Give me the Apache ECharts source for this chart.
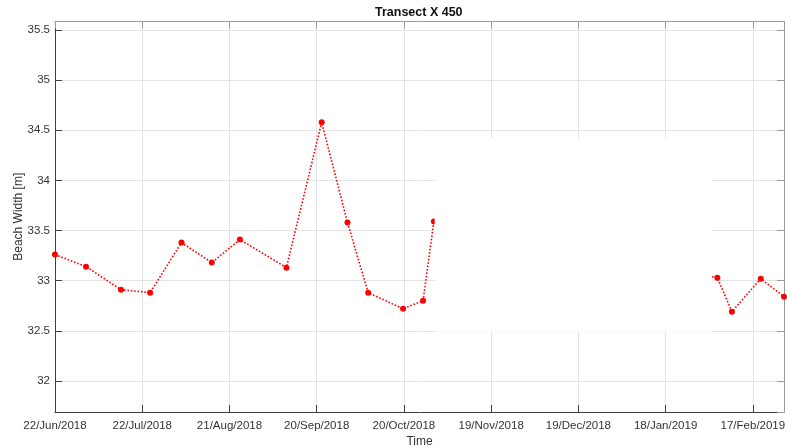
<!DOCTYPE html>
<html>
<head>
<meta charset="utf-8">
<script src="https://cdn.jsdelivr.net/npm/echarts@6/dist/echarts.min.js"></script>
<style>
  html, body { margin: 0; padding: 0; background: #ffffff; }
  #chart { width: 787px; height: 445px; }
</style>
</head>
<body>
<div id="chart"></div>
<script>
// Survey times (UTC) and measured beach width for transect X 450
const surveyTimes = [
  '2018-06-22 00:00', '2018-07-02 16:00', '2018-07-14 17:00', '2018-07-24 17:00',
  '2018-08-04 12:00', '2018-08-14 22:00', '2018-08-24 14:00', '2018-09-09 14:00',
  '2018-09-21 17:00', '2018-09-30 14:00', '2018-10-07 17:00', '2018-10-19 17:00',
  '2018-10-26 14:00', '2018-10-30 07:00', '2019-02-04 19:00', '2019-02-09 19:00',
  '2019-02-19 17:00', '2019-02-27 17:00'
];
const beachWidth = [
  33.26, 33.14, 32.91, 32.88,
  33.38, 33.18, 33.41, 33.13,
  34.58, 33.58, 32.88, 32.72,
  32.80, 33.59, 33.03, 32.69,
  33.02, 32.84
];

// Date ticks every 30 days starting at the first survey
const tickOrigin = '2018-06-22 00:00';
const tickStepDays = 30;
const monthNames = ['Jan', 'Feb', 'Mar', 'Apr', 'May', 'Jun', 'Jul', 'Aug', 'Sep', 'Oct', 'Nov', 'Dec'];

// Blanked-out window over the plot (time range and width range)
const blankFrom = '2018-10-30 14:00';
const blankTo = '2019-02-02 22:00';
const blankTop = 34.42;
const blankBottom = 32.49;

const DAY = 86400000;
function parseUTC(s) {
  const [d, t] = s.split(' ');
  const [Y, M, D] = d.split('-').map(Number);
  const [h, m] = t.split(':').map(Number);
  return Date.UTC(Y, M - 1, D, h, m);
}
const origin = parseUTC(tickOrigin);
const toDays = s => (parseUTC(s) - origin) / DAY;

const days = surveyTimes.map(toDays);
const points = days.map((d, i) => [d, beachWidth[i]]);
const xMax = days[days.length - 1];

function fmtDate(v) {
  const dt = new Date(origin + v * DAY);
  const dd = String(dt.getUTCDate()).padStart(2, '0');
  return dd + '/' + monthNames[dt.getUTCMonth()] + '/' + dt.getUTCFullYear();
}

const FONT = 'Liberation Sans, Arial, Helvetica, sans-serif';
const AXIS_DARK = '#404040';
const AXIS_LIGHT = '#9a9a9a';
const GRID = '#e3e3e3';
const TEXT = '#333333';

const chart = echarts.init(document.getElementById('chart'), null, { renderer: 'canvas' });

const yCommon = { type: 'value', min: 31.69, max: 35.585, splitNumber: 8 };
const xCommon = { type: 'value', min: 0, max: xMax, interval: tickStepDays };

function boxLine(color) {
  return { show: true, onZero: false, lineStyle: { color: color, width: 1 } };
}
function innerTicks(color) {
  return { show: true, inside: true, length: 7, lineStyle: { color: color } };
}

chart.setOption({
  animation: false,
  backgroundColor: '#ffffff',
  title: {
    text: 'Transect X 450',
    left: 375, top: 6, padding: 0,
    textStyle: { fontFamily: FONT, fontSize: 12.5, fontWeight: 'bold', color: '#111111' }
  },
  grid: { left: 55, right: 3, top: 21.5, bottom: 33, containLabel: false, outerBoundsMode: 'none' },
  xAxis: [
    Object.assign({}, xCommon, {
      position: 'bottom',
      name: 'Time', nameLocation: 'middle', nameGap: 24, nameMoveOverlap: false,
      nameTextStyle: { fontFamily: FONT, fontSize: 12, color: TEXT },
      axisLine: boxLine(AXIS_DARK),
      axisTick: innerTicks(AXIS_DARK),
      axisLabel: {
        formatter: fmtDate, showMaxLabel: false, margin: 8,
        fontFamily: FONT, fontSize: 11.5, color: TEXT
      },
      splitLine: { show: true, lineStyle: { color: GRID, width: 1 } }
    }),
    Object.assign({}, xCommon, {
      position: 'top',
      axisLine: boxLine(AXIS_LIGHT),
      axisTick: innerTicks(AXIS_LIGHT),
      axisLabel: { show: false },
      splitLine: { show: false }
    })
  ],
  yAxis: [
    Object.assign({}, yCommon, {
      position: 'left',
      name: 'Beach Width [m]', nameLocation: 'middle', nameGap: 30, nameRotate: 90,
      nameMoveOverlap: false,
      nameTextStyle: { fontFamily: FONT, fontSize: 12, color: TEXT },
      axisLine: boxLine(AXIS_DARK),
      axisTick: innerTicks(AXIS_DARK),
      axisLabel: {
        showMinLabel: false, showMaxLabel: false, margin: 5,
        fontFamily: FONT, fontSize: 11.5, color: TEXT
      },
      splitLine: { show: true, lineStyle: { color: GRID, width: 1 } }
    }),
    Object.assign({}, yCommon, {
      position: 'right',
      axisLine: boxLine(AXIS_LIGHT),
      axisTick: innerTicks(AXIS_LIGHT),
      axisLabel: { show: false },
      splitLine: { show: false }
    })
  ],
  series: [{
    type: 'line',
    xAxisIndex: 0, yAxisIndex: 0,
    data: points,
    symbol: 'circle', symbolSize: 6,
    itemStyle: { color: '#ff0000' },
    lineStyle: { color: '#ff0000', width: 1.6, type: [1.6, 1.8] },
    z: 2
  }]
});

// White blanking panel placed through the axis scales
const p1 = chart.convertToPixel({ xAxisIndex: 0, yAxisIndex: 0 }, [toDays(blankFrom), blankTop]);
const p2 = chart.convertToPixel({ xAxisIndex: 0, yAxisIndex: 0 }, [toDays(blankTo), blankBottom]);
chart.setOption({
  graphic: [{
    type: 'rect', z: 100,
    shape: { x: p1[0], y: p1[1], width: p2[0] - p1[0], height: p2[1] - p1[1] },
    style: { fill: '#ffffff' }
  }]
});
</script>
</body>
</html>
